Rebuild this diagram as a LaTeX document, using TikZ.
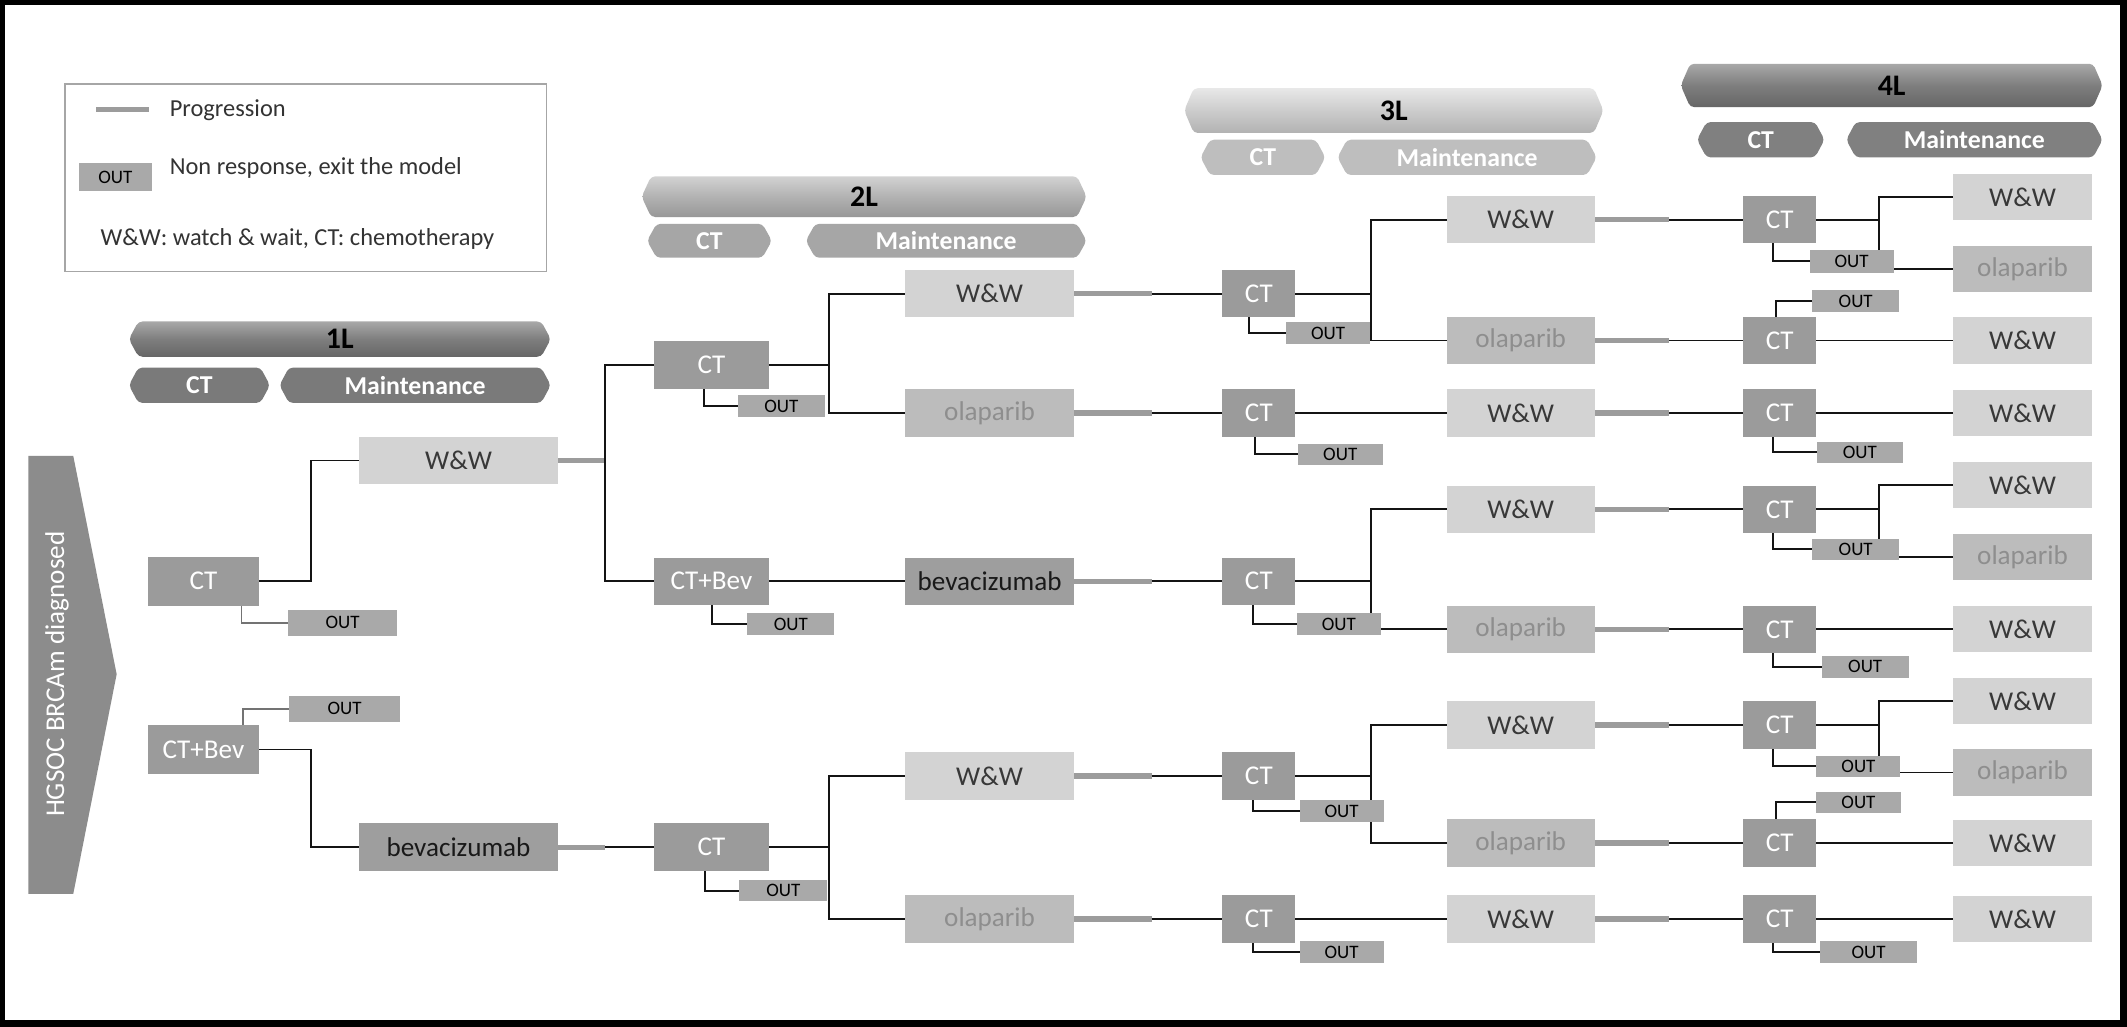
\documentclass[tikz,border=0pt]{standalone}
\usepackage{fontspec}
\setmainfont{Carlito}
\usetikzlibrary{calc}
\definecolor{ctg}{HTML}{9B9B9B}
\definecolor{wwg}{HTML}{D3D3D3}
\definecolor{olag}{HTML}{BCBCBC}
\definecolor{olat}{HTML}{8E8E8E}
\definecolor{bevg}{HTML}{9E9E9E}
\definecolor{outg}{HTML}{A9A9A9}
\definecolor{progc}{HTML}{9C9C9C}
\definecolor{arrg}{HTML}{8C8C8C}
\definecolor{d1t}{HTML}{A8A8A8}
\definecolor{d1m}{HTML}{7E7E7E}
\definecolor{d1b}{HTML}{666666}
\definecolor{l2t}{HTML}{D2D2D2}
\definecolor{l2m}{HTML}{B2B2B2}
\definecolor{l2b}{HTML}{979797}
\definecolor{l3t}{HTML}{E8E8E8}
\definecolor{l3m}{HTML}{CCCCCC}
\definecolor{l3b}{HTML}{B2B2B2}
\definecolor{sa}{HTML}{7A7A7A}
\definecolor{sb}{HTML}{A6A6A6}
\definecolor{sc}{HTML}{BEBEBE}
\definecolor{sd}{HTML}{808080}
\pgfdeclarelayer{back}
\pgfdeclarelayer{lines}
\pgfsetlayers{back,lines,main}
\newcommand{\hdrshape}[5]{\path[rounded corners=3pt,#5] (#1,{(#2+#4)/2}) -- ({#1+7},#2) -- ({#3-7},#2) -- (#3,{(#2+#4)/2}) -- ({#3-7},#4) -- ({#1+7},#4) -- cycle;}
\tikzset{
 nd/.style={rectangle, inner sep=0pt, outer sep=0pt, font=\fontsize{20}{22}\selectfont},
 ctb/.style={nd, fill=ctg, text=white},
 wwb/.style={nd, fill=wwg, text=black!78},
 olab/.style={nd, fill=olag, text=olat},
 bevb/.style={nd, fill=bevg, text=black!90},
 outb/.style={rectangle, inner sep=0pt, outer sep=0pt, fill=outg, text=black, font=\fontsize{14}{15}\selectfont, minimum width=63pt, minimum height=16pt},
 c1/.style={minimum width=82pt, minimum height=36pt},
 c1m/.style={minimum width=146pt, minimum height=35pt},
 c2/.style={minimum width=85pt, minimum height=35pt},
 c2m/.style={minimum width=125pt, minimum height=35pt},
 c3/.style={minimum width=54pt, minimum height=35pt},
 c3m/.style={minimum width=109pt, minimum height=35pt},
 c4/.style={minimum width=54pt, minimum height=35pt},
 c4m/.style={minimum width=102pt, minimum height=34pt},
 ln/.style={line width=1.4pt, draw=black!92},
 lng/.style={line width=1.4pt, draw=black!55},
 prog/.style={line width=3.8pt, draw=progc},
 hdrt/.style={font=\bfseries\fontsize{22}{24}\selectfont, text=black},
 subt/.style={font=\bfseries\fontsize{19}{21}\selectfont, text=white},
 lgt/.style={font=\fontsize{18}{20}\selectfont, text=black!80, inner sep=0pt},
}
\begin{document}
\begin{tikzpicture}[x=1pt,y=-1pt]
\useasboundingbox (0,0) rectangle (1568,757);
\begin{pgfonlayer}{back}
\fill[black] (0,0) rectangle (1568,757);
\fill[white] (4,4) rectangle (1563,752);
\end{pgfonlayer}

% legend
\node[draw=black!35, line width=1pt, minimum width=355pt, minimum height=138pt, inner sep=0pt] (legend) at (225.5,131) {};
\draw[prog] (71,81) -- (110,81);
\node[anchor=west, lgt] (lg1) at (125,81) {Progression};
\node[outb, minimum width=54pt, minimum height=21pt] (lgout) at (85,130.5) {OUT};
\node[anchor=west, lgt] (lg2) at (125,124) {Non response, exit the model};
\node[anchor=west, lgt] (lg3) at (74,176) {W\&W: watch \& wait, CT: chemotherapy};

% diagnosis arrow
\path[fill=arrg] (21,336) -- (54,336) -- (86,497) -- (54,659) -- (21,659) -- cycle;
\node[rotate=90, font=\fontsize{20}{22}\selectfont, text=white] (dx) at (42,497) {HGSOC BRCAm diagnosed};

% headers
\hdrshape{95}{237}{406}{263}{top color=d1t, bottom color=d1b, middle color=d1m}
\node[hdrt] (h1) at (250.5,250) {1L};
\hdrshape{95}{271}{199}{297}{fill=sa}
\node[subt] (h1c) at (147,284) {CT};
\hdrshape{206}{271}{406}{297}{fill=sa}
\node[subt] (h1m) at (306,284) {Maintenance};

\hdrshape{473}{130}{801}{160}{top color=l2t, bottom color=l2b, middle color=l2m}
\node[hdrt] (h2) at (637,145) {2L};
\hdrshape{477}{165}{569}{190}{fill=sb}
\node[subt] (h2c) at (523,177.5) {CT};
\hdrshape{594}{165}{801}{190}{fill=sb}
\node[subt] (h2m) at (697.5,177.5) {Maintenance};

\hdrshape{873}{65}{1182}{98}{top color=l3t, bottom color=l3b, middle color=l3m}
\node[hdrt] (h3) at (1027.5,81.5) {3L};
\hdrshape{885}{103}{977}{129}{fill=sc}
\node[subt] (h3c) at (931,116) {CT};
\hdrshape{986}{103}{1177}{129}{fill=sc}
\node[subt] (h3m) at (1081.5,116) {Maintenance};

\hdrshape{1239}{47}{1550}{79}{top color=d1t, bottom color=d1b, middle color=d1m}
\node[hdrt] (h4) at (1394.5,63) {4L};
\hdrshape{1251}{90}{1345}{116}{fill=sd}
\node[subt] (h4c) at (1298,103) {CT};
\hdrshape{1361}{90}{1550}{116}{fill=sd}
\node[subt] (h4m) at (1455.5,103) {Maintenance};

% 1L
\node[ctb,c1] (ct1a) at (150,428.5) {CT};
\node[outb,minimum width=81pt,minimum height=19pt] (out1a) at (252.5,459) {OUT};
\node[ctb,c1] (ct1b) at (150,552.5) {CT+Bev};
\node[outb,minimum width=82pt,minimum height=19pt] (out1b) at (254,522.5) {OUT};
\node[wwb,c1m] (ww1) at (338,339.5) {W\&W};
\node[bevb,c1m] (bev1) at (338,624.5) {bevacizumab};

% 2L
\node[ctb,c2] (ct2a) at (524.5,269) {CT};
\node[outb,minimum width=64pt] (out2a) at (576,299.5) {OUT};
\node[ctb,c2] (ct2b) at (524.5,428.5) {CT+Bev};
\node[outb,minimum width=64pt] (out2b) at (583,460) {OUT};
\node[ctb,c2] (ct2c) at (524.5,624.5) {CT};
\node[outb,minimum width=65pt] (out2c) at (577.5,656.5) {OUT};
\node[wwb,c2m] (ww2a) at (729.5,216.5) {W\&W};
\node[olab,c2m] (ola2a) at (729.5,304.5) {olaparib};
\node[bevb,c2m] (bev2) at (729.5,428.5) {bevacizumab};
\node[wwb,c2m] (ww2b) at (729.5,572) {W\&W};
\node[olab,c2m] (ola2b) at (729.5,677.5) {olaparib};

% 3L
\node[ctb,c3] (ct3a) at (928,216.5) {CT};
\node[ctb,c3] (ct3b) at (928,304.5) {CT};
\node[ctb,c3] (ct3c) at (928,428.5) {CT};
\node[ctb,c3] (ct3d) at (928,572) {CT};
\node[ctb,c3] (ct3e) at (928,677.5) {CT};
\node[outb,minimum width=62pt] (out3a) at (979,245.5) {OUT};
\node[outb] (out3b) at (988,335) {OUT};
\node[outb,minimum width=62pt] (out3c) at (987,460) {OUT};
\node[outb,minimum width=62pt] (out3d) at (989,598) {OUT};
\node[outb,minimum width=62pt] (out3e) at (989,702) {OUT};
\node[wwb,c3m] (ww3a) at (1121,162) {W\&W};
\node[olab,c3m] (ola3a) at (1121,251) {olaparib};
\node[wwb,c3m] (ww3b) at (1121,304.5) {W\&W};
\node[wwb,c3m] (ww3c) at (1121,375.5) {W\&W};
\node[olab,c3m] (ola3b) at (1121,464) {olaparib};
\node[wwb,c3m] (ww3d) at (1121,534.5) {W\&W};
\node[olab,c3m] (ola3c) at (1121,621.5) {olaparib};
\node[wwb,c3m] (ww3e) at (1121,677.5) {W\&W};

% 4L
\node[ctb,c4] (ct4a) at (1312,162) {CT};
\node[ctb,c4] (ct4b) at (1312,251) {CT};
\node[ctb,c4] (ct4c) at (1312,304.5) {CT};
\node[ctb,c4] (ct4d) at (1312,375.5) {CT};
\node[ctb,c4] (ct4e) at (1312,464) {CT};
\node[ctb,c4] (ct4f) at (1312,534.5) {CT};
\node[ctb,c4] (ct4g) at (1312,621.5) {CT};
\node[ctb,c4] (ct4h) at (1312,677.5) {CT};
\node[outb,minimum width=62pt,minimum height=17pt] (out4a) at (1365,192.5) {OUT};
\node[outb,minimum width=64pt] (out4b) at (1368,222) {OUT};
\node[outb] (out4c) at (1371,333.5) {OUT};
\node[outb,minimum width=64pt] (out4d) at (1368,405) {OUT};
\node[outb,minimum width=64pt] (out4e) at (1375,491.5) {OUT};
\node[outb,minimum width=62pt] (out4f) at (1370,565) {OUT};
\node[outb] (out4g) at (1370,591.5) {OUT};
\node[outb,minimum width=71pt] (out4h) at (1377.5,702) {OUT};
\node[wwb,c4m] (ww4a) at (1491,145.5) {W\&W};
\node[olab,c4m] (ola4a) at (1491,198.5) {olaparib};
\node[wwb,c4m] (ww4b) at (1491,251) {W\&W};
\node[wwb,c4m] (ww4c) at (1491,304.5) {W\&W};
\node[wwb,c4m] (ww4d) at (1491,357.5) {W\&W};
\node[olab,c4m] (ola4b) at (1491,410.5) {olaparib};
\node[wwb,c4m] (ww4e) at (1491,464) {W\&W};
\node[wwb,c4m] (ww4f) at (1491,517) {W\&W};
\node[olab,c4m] (ola4c) at (1491,569.5) {olaparib};
\node[wwb,c4m] (ww4g) at (1491,621.5) {W\&W};
\node[wwb,c4m] (ww4h) at (1491,677.5) {W\&W};

\begin{pgfonlayer}{lines}
% 1L connectors
\draw[ln] (ct1a.east) -- ++(38,0) |- (ww1.west);
\draw[lng] ([xshift=28pt]ct1a.south) |- (out1a.west);
\draw[ln] (ct1b.east) -- ++(38,0) |- (bev1.west);
\draw[lng] ([xshift=29pt]ct1b.north) |- (out1b.west);
\draw[prog] (ww1.east) -- ++(35,0) coordinate (j1);
\draw[ln] (ct2a.west) -| (j1) |- (ct2b.west);
\draw[prog] (bev1.east) -- ++(35,0) coordinate (j2);
\draw[ln] (j2) -- (ct2c.west);
% 2L connectors
\draw[ln] (ct2a.east) -- ++(44,0) coordinate (k2a);
\draw[ln] (ww2a.west) -| (k2a) |- (ola2a.west);
\draw[ln] ([xshift=-5.5pt]ct2a.south) |- (out2a.west);
\draw[ln] (ct2b.east) -- (bev2.west);
\draw[ln] ([xshift=0.5pt]ct2b.south) |- (out2b.west);
\draw[ln] (ct2c.east) -- ++(44,0) coordinate (k2c);
\draw[ln] (ww2b.west) -| (k2c) |- (ola2b.west);
\draw[ln] ([xshift=-4.5pt]ct2c.south) |- (out2c.west);
\foreach \a/\b in {ww2a/ct3a, ola2a/ct3b, bev2/ct3c, ww2b/ct3d, ola2b/ct3e} {
  \draw[prog] (\a.east) -- ++(57,0) coordinate (pp);
  \draw[ln] (pp) -- (\b.west);
}
% 3L connectors
\draw[ln] (ct3a.east) -- ++(56,0) coordinate (k3a);
\draw[ln] (ww3a.west) -| (k3a) |- (ola3a.west);
\draw[ln] (ct3b.east) -- (ww3b.west);
\draw[ln] (ct3c.east) -- ++(56,0) coordinate (k3c);
\draw[ln] (ww3c.west) -| (k3c) |- (ola3b.west);
\draw[ln] (ct3d.east) -- ++(56,0) coordinate (k3d);
\draw[ln] (ww3d.west) -| (k3d) |- (ola3c.west);
\draw[ln] (ct3e.east) -- (ww3e.west);
\foreach \c/\o/\s in {ct3a/out3a/-7, ct3b/out3b/-3, ct3c/out3c/-4, ct3d/out3d/-4, ct3e/out3e/-4} {
  \draw[ln] ([xshift=\s pt]\c.south) |- (\o.west);
}
\foreach \a/\b in {ww3a/ct4a, ola3a/ct4b, ww3b/ct4c, ww3c/ct4d, ola3b/ct4e, ww3d/ct4f, ola3c/ct4g, ww3e/ct4h} {
  \draw[prog] (\a.east) -- ++(55,0) coordinate (pp);
  \draw[ln] (pp) -- (\b.west);
}
% 4L connectors
\draw[ln] (ct4a.east) -- ++(46,0) coordinate (k4a);
\draw[ln] (ww4a.west) -| (k4a) |- (ola4a.west);
\draw[ln] (ct4b.east) -- (ww4b.west);
\draw[ln] (ct4c.east) -- (ww4c.west);
\draw[ln] (ct4d.east) -- ++(46,0) coordinate (k4d);
\draw[ln] (ww4d.west) -| (k4d) |- (ola4b.west);
\draw[ln] (ct4e.east) -- (ww4e.west);
\draw[ln] (ct4f.east) -- ++(46,0) coordinate (k4f);
\draw[ln] (ww4f.west) -| (k4f) |- (ola4c.west);
\draw[ln] (ct4g.east) -- (ww4g.west);
\draw[ln] (ct4h.east) -- (ww4h.west);
\foreach \c/\o in {ct4a/out4a, ct4c/out4c, ct4d/out4d, ct4e/out4e, ct4f/out4f, ct4h/out4h} {
  \draw[ln] ([xshift=-5pt]\c.south) |- (\o.west);
}
\foreach \c/\o in {ct4b/out4b, ct4g/out4g} {
  \draw[ln] ([xshift=-3pt]\c.north) |- (\o.west);
}
\end{pgfonlayer}
\end{tikzpicture}
\end{document}
